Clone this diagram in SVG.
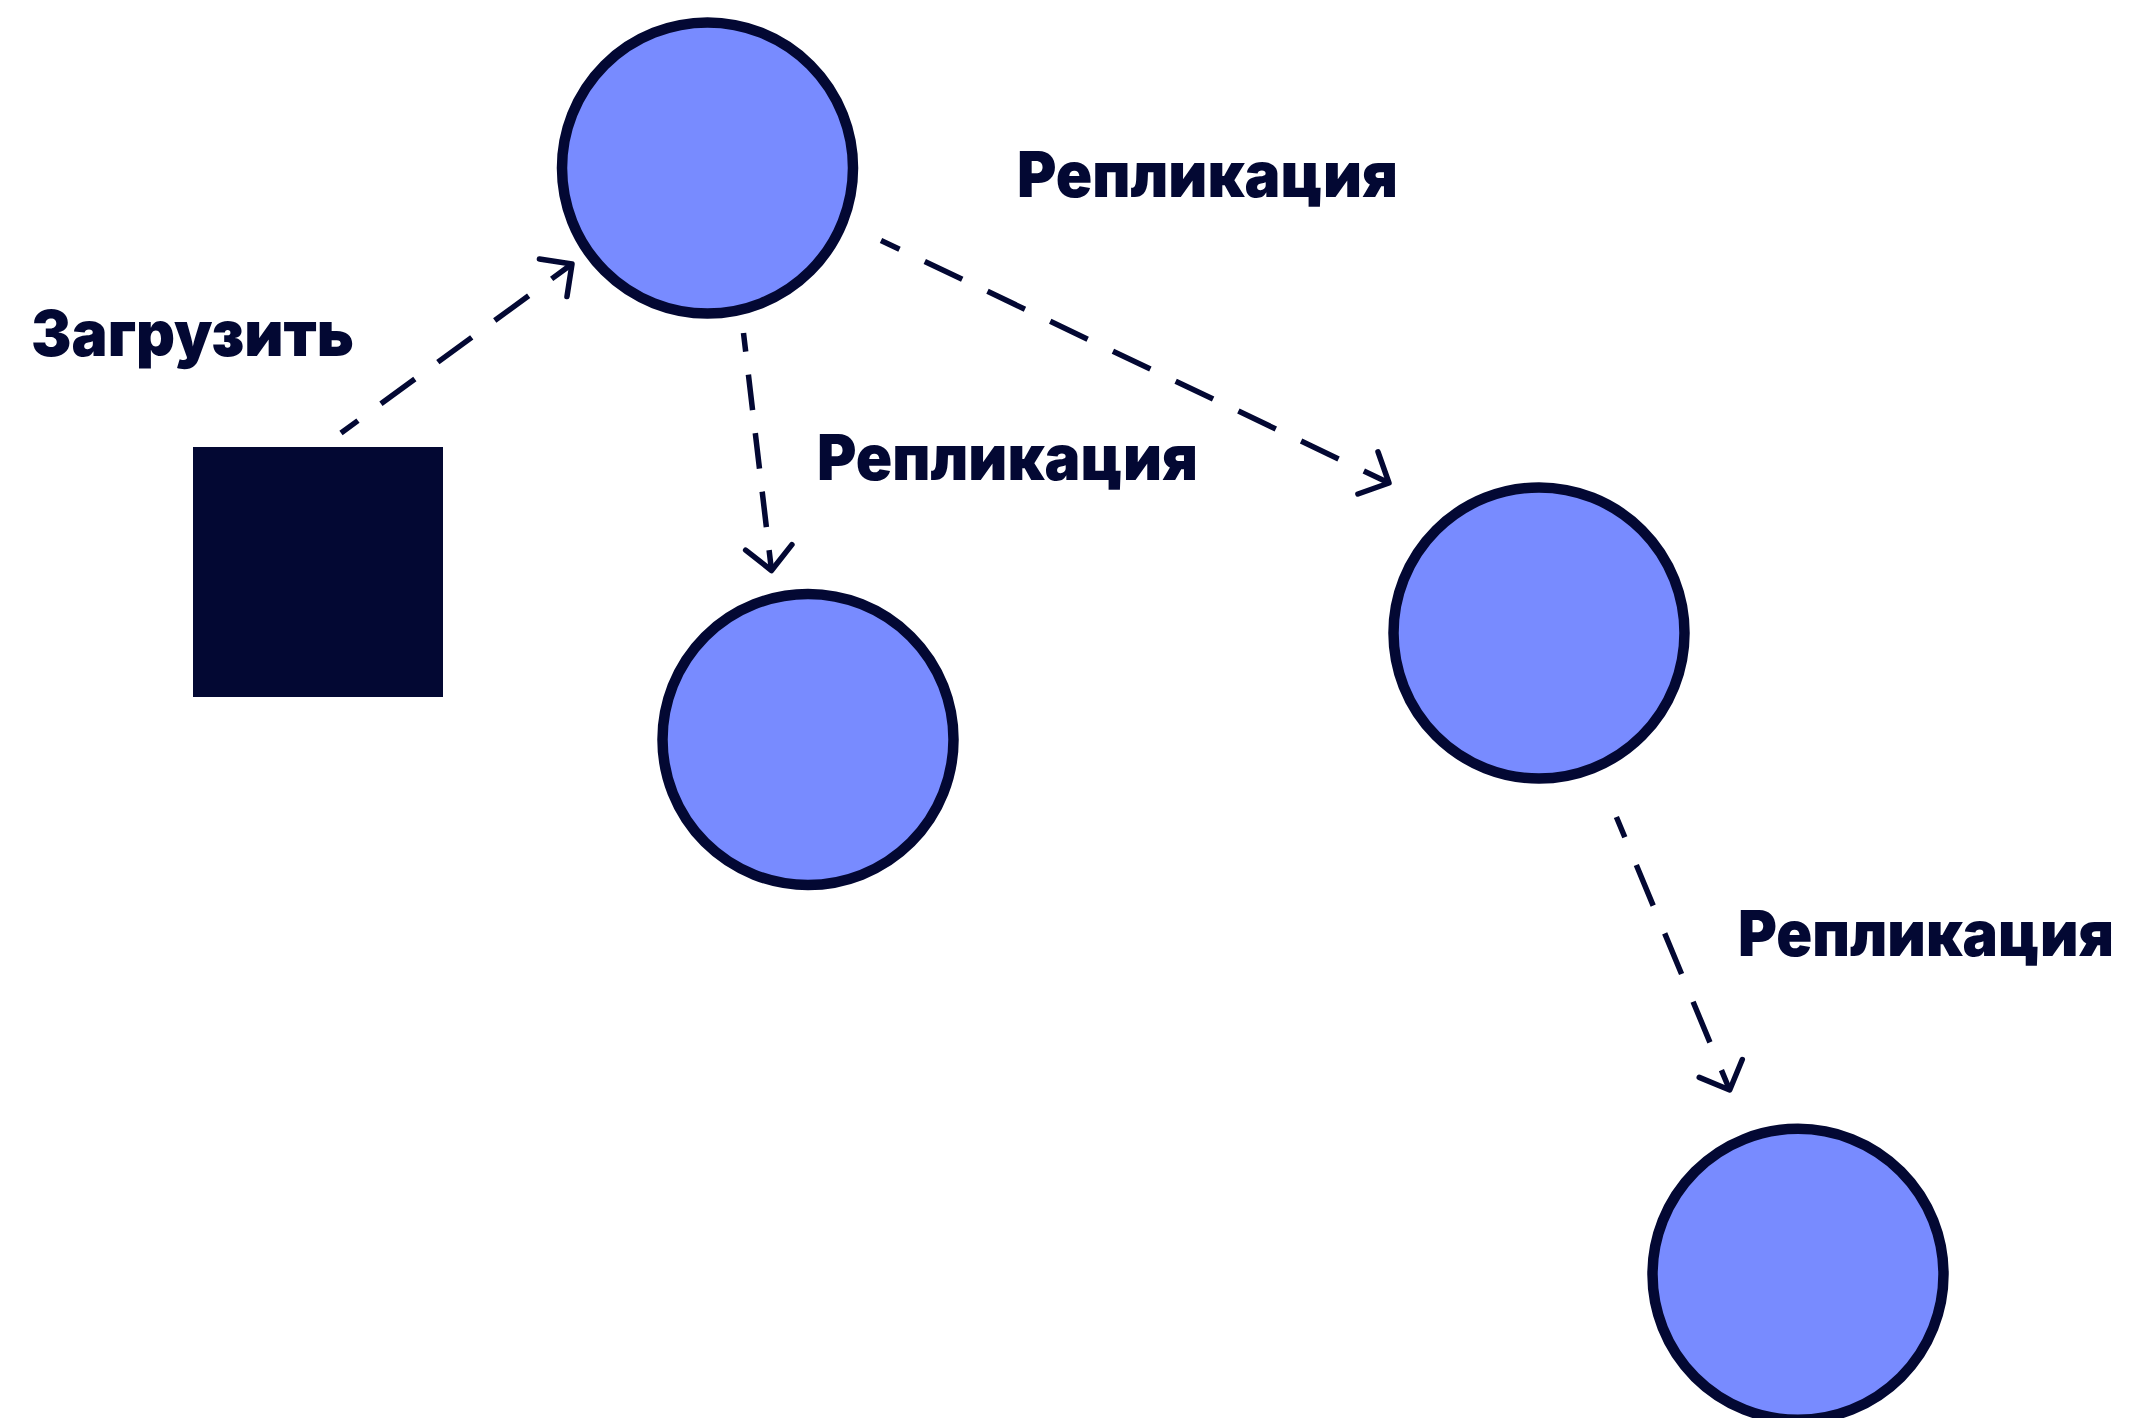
<svg xmlns="http://www.w3.org/2000/svg" width="2135" height="1418" viewBox="0 0 2135 1418">
  <style>
    .node { fill: #788bff; stroke: #030833; stroke-width: 10.5; }
    .edge { fill: none; stroke: #030833; stroke-width: 5.5; stroke-linecap: butt; marker-end: url(#ah); }
    .lbl { font-family: Inter, "Liberation Sans", "Noto Sans", sans-serif; font-weight: 900; font-size: 63px; fill: #030833; }
  </style>
  <defs>
    <marker id="ah" markerUnits="userSpaceOnUse" orient="auto" refX="0" refY="0" markerWidth="60" markerHeight="60" overflow="visible">
      <path d="M-23.3,-23.3 L0,0 L-23.3,23.3" fill="none" stroke="#030833" stroke-width="5.5" stroke-linecap="round" stroke-linejoin="round" stroke-dasharray="none"/>
    </marker>
  </defs>
  <rect width="2135" height="1418" fill="#ffffff"/>

  <g id="connectors">
    <path id="e-upload" class="edge" d="M341,433 L572,264" stroke-dasharray="42 28.5" stroke-dashoffset="21"/>
    <path id="e-rep1" class="edge" d="M743.5,333 L771.5,570.5" stroke-dasharray="35.7 23.2" stroke-dashoffset="17"/>
    <path id="e-rep2" class="edge" d="M881,240.5 L1389,483" stroke-dasharray="41.5 28" stroke-dashoffset="21"/>
    <path id="e-rep3" class="edge" d="M1616.4,817 L1729.7,1090" stroke-dasharray="44 30" stroke-dashoffset="22"/>
  </g>

  <g id="client">
    <rect x="193" y="447" width="250" height="250" fill="#030833"/>
  </g>
  <g id="node1">
    <circle class="node" cx="707.5" cy="168" r="145.5"/>
  </g>
  <g id="node2">
    <circle class="node" cx="808" cy="739.5" r="145.5"/>
  </g>
  <g id="node3">
    <circle class="node" cx="1539" cy="633" r="145.5"/>
  </g>
  <g id="node4">
    <circle class="node" cx="1798" cy="1274.3" r="145.5"/>
  </g>

  <g id="labels">
    <text class="lbl" x="31" y="356" textLength="323" lengthAdjust="spacingAndGlyphs">Загрузить</text>
    <text class="lbl" x="1017" y="197" textLength="381" lengthAdjust="spacingAndGlyphs">Репликация</text>
    <text class="lbl" x="817" y="480" textLength="381" lengthAdjust="spacingAndGlyphs">Репликация</text>
    <text class="lbl" x="1738" y="956" textLength="376" lengthAdjust="spacingAndGlyphs">Репликация</text>
  </g>
</svg>
